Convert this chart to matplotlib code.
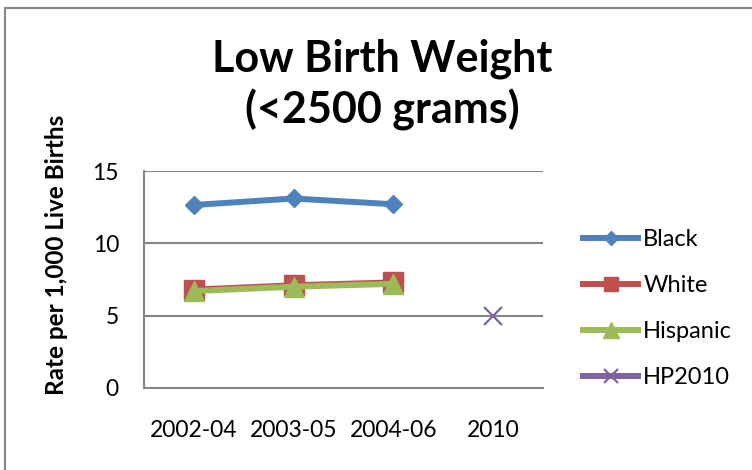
import matplotlib
matplotlib.use("Agg")
import matplotlib.pyplot as plt
from matplotlib.lines import Line2D

plt.rcParams['font.family'] = ['Lato', 'DejaVu Sans']

periods = ["2002-04", "2003-05", "2004-06", "2010"]
black = [12.65, 13.1, 12.7]
white = [6.8, 7.1, 7.3]
hispanic = [6.7, 7.0, 7.2]
hp2010 = [5.0]

blue = "#4F81BD"
red = "#C0504D"
green = "#9BBB59"
purple = "#8064A2"
gray = "#868686"

fig = plt.figure(figsize=(7.52, 4.70), dpi=100)
ax = fig.add_axes([144 / 752, 1 - 388 / 470, 399 / 752, 217 / 470])

x = list(range(len(periods)))
ax.plot(x[:3], black, color=blue, lw=4.3, marker="D", ms=9.5, label="Black")
ax.plot(x[:3], white, color=red, lw=4.3, marker="s", ms=14, label="White")
ax.plot(x[:3], hispanic, color=green, lw=4.3, marker="^", ms=15, label="Hispanic")
ax.plot(x[3:], hp2010, color=purple, lw=4.3, marker="x", ms=13.5, mew=1.6,
        linestyle="none", label="HP2010")

ax.set_xlim(-0.5, 3.5)
ax.set_ylim(0, 15)
ax.set_yticks([0, 5, 10, 15])
ax.set_xticks(x)
ax.set_xticklabels(periods)
ax.grid(axis="y", color=gray, lw=1.5)
ax.set_axisbelow(True)
for s in ["top", "right"]:
    ax.spines[s].set_visible(False)
for s in ["left", "bottom"]:
    ax.spines[s].set_color(gray)
    ax.spines[s].set_linewidth(1.5)
ax.tick_params(length=0, labelsize=16.5)
ax.tick_params(axis="x", pad=23)
ax.tick_params(axis="y", pad=18)

ax.set_ylabel("Rate per 1,000 Live Births", fontsize=17.5, fontweight="bold")
ax.yaxis.set_label_coords((56 - 144) / 399, (388 - 255) / 217)
ax.yaxis.label.set_verticalalignment("center")

fig.text(382 / 752, 1 - 59 / 470, "Low Birth Weight", ha="center", va="center",
         fontsize=31, fontweight="bold")
fig.text(382 / 752, 1 - 110 / 470, "(<2500 grams)", ha="center", va="center",
         fontsize=31, fontweight="bold")

# legend with the HP2010 handle drawn as a line through an x
handles, labels = ax.get_legend_handles_labels()
handles[3] = Line2D([], [], color=purple, lw=4.3, marker="x", ms=13.5, mew=1.6)
leg = fig.legend(handles, labels, loc="upper left",
                 bbox_to_anchor=(562 / 752, 1 - 208 / 470),
                 frameon=False, fontsize=17, handlelength=2.33,
                 handletextpad=0.21, labelspacing=1.06, markerscale=0.75)

# outer chart border
fig.add_artist(Line2D([5 / 752, 5 / 752], [0, 1 - 8 / 470], color=gray, lw=1.5,
                      transform=fig.transFigure))
fig.add_artist(Line2D([5 / 752, 1], [1 - 8 / 470, 1 - 8 / 470], color=gray, lw=1.5,
                      transform=fig.transFigure))

fig.savefig("out.png", dpi=100)
